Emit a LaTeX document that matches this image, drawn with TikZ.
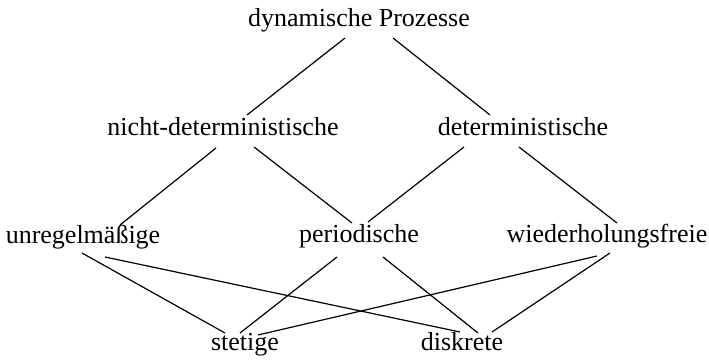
\documentclass[tikz,border=0pt]{standalone}
\usepackage{fontspec}
\setmainfont{Liberation Serif}
\begin{document}
\begin{tikzpicture}[x=1pt,y=-1pt,
  term/.style={anchor=base,inner sep=0pt,font=\fontsize{26}{26}\selectfont},
  link/.style={line width=1.2pt,black}]
\useasboundingbox (0,0) rectangle (709,359);
% terms, placed by their baselines
\node[term] (dyn)  at (359,26)  {dynamische Prozesse};
\node[term] (ndet) at (223,135) {nicht-deterministische};
\node[term] (det)  at (523,135) {deterministische};
\node[term] (unr)  at (83,243)  {unregelmäßige};
\node[term] (per)  at (359,242) {periodische};
\node[term] (wfr)  at (607,242) {wiederholungsfreie};
\node[term] (ste)  at (245,350) {stetige};
\node[term] (dis)  at (462,350) {diskrete};
% connectors between levels
\draw[link] ([shift={(-14,12)}]dyn.base) -- ([shift={(24,-20)}]ndet.base);
\draw[link] ([shift={(34,12)}]dyn.base)  -- ([shift={(-33,-20)}]det.base);
\draw[link] ([shift={(-7,13)}]ndet.base) -- ([shift={(37,-18)}]unr.base);
\draw[link] ([shift={(31,12)}]ndet.base) -- ([shift={(-7,-19)}]per.base);
\draw[link] ([shift={(-59,12)}]det.base) -- ([shift={(9,-20)}]per.base);
\draw[link] ([shift={(-4,12)}]det.base)  -- ([shift={(10,-19)}]wfr.base);
\draw[link] ([shift={(-1,10)}]unr.base)  -- ([shift={(-20,-17)}]ste.base);
\draw[link] ([shift={(22,14)}]unr.base)  -- ([shift={(-2,-18)}]dis.base);
\draw[link] ([shift={(-22,15)}]per.base) -- ([shift={(-5,-17)}]ste.base);
\draw[link] ([shift={(24,15)}]per.base)  -- ([shift={(16,-17)}]dis.base);
\draw[link] ([shift={(-10,14)}]wfr.base) -- ([shift={(13,-15)}]ste.base);
\draw[link] ([shift={(3,11)}]wfr.base)   -- ([shift={(30,-18)}]dis.base);
\end{tikzpicture}
\end{document}
